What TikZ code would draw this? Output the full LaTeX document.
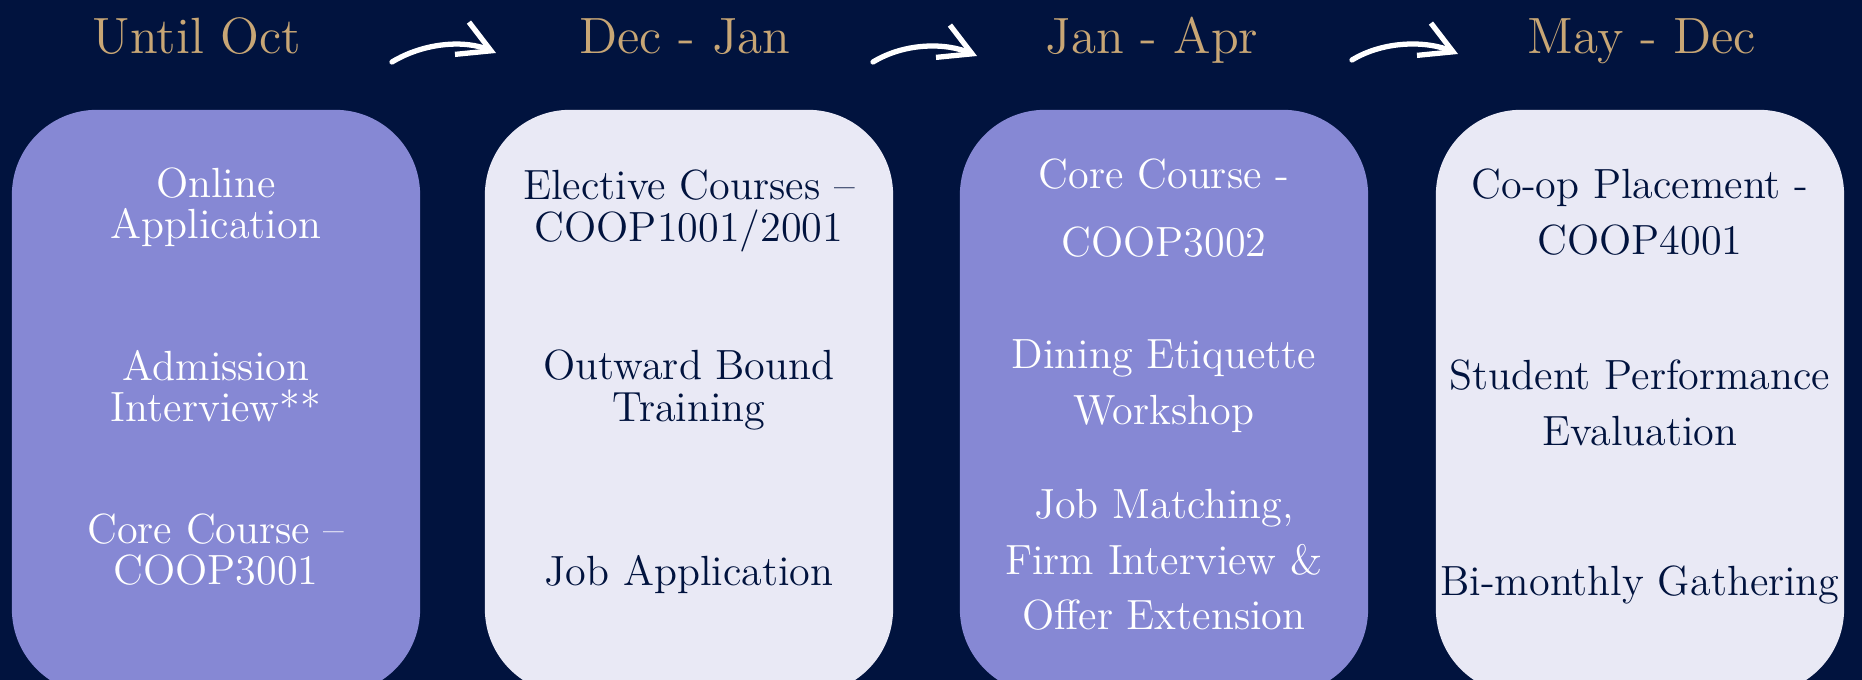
\documentclass[tikz,border=0pt]{standalone}
\usepackage{tikz}
\usetikzlibrary{arrows.meta,calc}
\definecolor{navy}{RGB}{1,19,62}
\definecolor{tan}{RGB}{200,166,117}
\definecolor{lilac}{RGB}{134,136,212}
\definecolor{pale}{RGB}{233,233,245}

\begin{document}
\begin{tikzpicture}[x=0.01cm,y=-0.01cm,
        card/.style={rounded corners=0.85cm, minimum width=4.08cm, minimum height=5.84cm, inner sep=0pt},
        period/.style={text=tan, font=\fontsize{14.5}{16}\selectfont, anchor=base, inner sep=0pt},
        item/.style={align=center, inner sep=0pt, font=\fontsize{12}{11.7}\selectfont},
        loose/.style={font=\fontsize{12}{15.8}\selectfont},
        swoosh/.style={white, line width=1.5pt, line cap=round, -{Straight Barb[length=9pt,width=10pt,line width=1.5pt]}}]
        \useasboundingbox (0,0) rectangle (1862,680);
        \clip (0,0) rectangle (1862,680);
        \fill[navy] (0,0) rectangle (1862,680);
        % periods
        \node[period] (until) at (197,54) {Until Oct};
        \node[period] (decjan) at (685,54) {Dec - Jan};
        \node[period] (janapr) at (1152,54) {Jan - Apr};
        \node[period] (maydec) at (1642,54) {May - Dec};
        % arrows
        \coordinate (a1s) at (392,62); \coordinate (a1e) at (496,53);
        \coordinate (a2s) at (873,62); \coordinate (a2e) at (977,56);
        \coordinate (a3s) at (1352,60); \coordinate (a3e) at (1458,54);
        \draw[swoosh] (a1s) .. controls ($(a1s)+(33,-20)$) and ($(a1e)+(-30,-13)$) .. (a1e);
        \draw[swoosh] (a2s) .. controls ($(a2s)+(33,-20)$) and ($(a2e)+(-30,-13)$) .. (a2e);
        \draw[swoosh] (a3s) .. controls ($(a3s)+(33,-20)$) and ($(a3e)+(-30,-13)$) .. (a3e);
        % cards
        \node[card, fill=lilac] (c1) at (216,402) {};
        \node[card, fill=pale] (c2) at (689,402) {};
        \node[card, fill=lilac] (c3) at (1164,402) {};
        \node[card, fill=pale] (c4) at (1640,402) {};
        % card 1
        \node[item, text=white] (online) at (216,207) {Online\\Application};
        \node[item, text=white] (admit) at (216,386) {Admission\\Interview**};
        \node[item, text=white] (core1) at (216,550) {Core Course --\\COOP3001};
        % card 2
        \node[item, text=navy] (elect) at (689,211) {Elective Courses --\\COOP1001/2001};
        \node[item, text=navy] (bound) at (689,390) {Outward Bound\\Training};
        \node[item, text=navy] (jobapp) at (689,575) {Job Application};
        % card 3
        \node[item, text=white, font=\fontsize{12}{19.3}\selectfont] (core2) at (1164,208) {Core Course -\\COOP3002};
        \node[item, loose, text=white] (dining) at (1164,386) {Dining Etiquette\\Workshop};
        \node[item, loose, text=white] (match) at (1164,560) {Job Matching,\\Firm Interview \&\\Offer Extension};
        % card 4
        \node[item, loose, text=navy] (place) at (1640,212) {Co-op Placement -\\COOP4001};
        \node[item, loose, text=navy] (perf) at (1640,403) {Student Performance\\Evaluation};
        \node[item, text=navy] (gather) at (1640,585) {Bi-monthly Gathering};
    \end{tikzpicture}
\end{document}
